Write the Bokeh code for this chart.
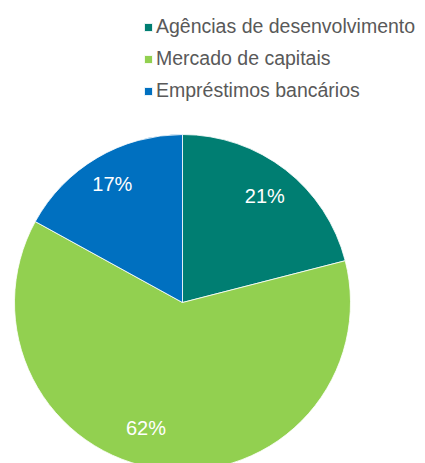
import math
from bokeh.plotting import figure
from bokeh.models import ColumnDataSource, Range1d, Legend, LegendItem
from bokeh.core.properties import value
from bokeh.embed import file_html
from bokeh.resources import INLINE

# ---- data ----
categories = ["Agências de desenvolvimento", "Mercado de capitais", "Empréstimos bancários"]
values = [21, 62, 17]
labels = ["21%", "62%", "17%"]

# ---- style ----
colors = ["#007E72", "#92D050", "#0070C0"]
label_radius = [0.80, 0.78, 0.82]
label_angle_shift = [0.0, -9.0, 0.0]

W, H = 425, 463
cx, cy, R = 182, 161, 168

total = sum(values)
starts, ends, lx, ly = [], [], [], []
a = 90.0
for v, rf, sh in zip(values, label_radius, label_angle_shift):
    span = v / total * 360.0
    end = a
    start = a - span
    starts.append(math.radians(start))
    ends.append(math.radians(end))
    mid = math.radians((start + end) / 2 + sh)
    lx.append(cx + rf * R * math.cos(mid))
    ly.append(cy + rf * R * math.sin(mid))
    a = start

src = ColumnDataSource(dict(cat=categories, val=values, start=starts, end=ends,
                            color=colors, lx=lx, ly=ly, lab=labels))

p = figure(width=W, height=H, output_backend="svg", toolbar_location=None,
           x_range=Range1d(0, W), y_range=Range1d(0, H),
           x_axis_type=None, y_axis_type=None, min_border=0)
p.outline_line_color = None
p.grid.visible = False
p.background_fill_color = "white"

r = p.wedge(x=cx, y=cy, radius=R, start_angle="start", end_angle="end",
            fill_color="color", line_color="white", line_width=0.8, source=src)

p.text(x="lx", y="ly", text="lab", source=src, text_color="white",
       text_font_size="20px", text_font=value("Liberation Sans"),
       text_align="center", text_baseline="middle")

items = [LegendItem(label=c, renderers=[r], index=i) for i, c in enumerate(categories)]
legend = Legend(items=items, location=(143, 361), orientation="vertical",
                glyph_width=10, glyph_height=10, label_height=20, spacing=9,
                label_standoff=3, padding=0, margin=0,
                border_line_color=None, background_fill_alpha=0,
                label_text_font="Liberation Sans", label_text_font_size="19.5px",
                label_text_color="#595959")
p.add_layout(legend)

open("out.html", "w").write(file_html(p, INLINE))
